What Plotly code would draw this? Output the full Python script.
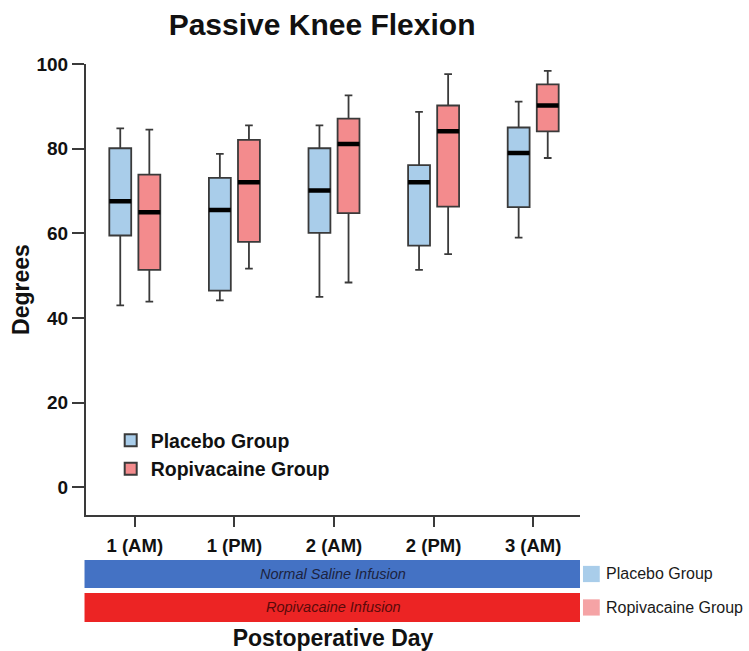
import plotly.graph_objects as go

# Postoperative assessment points
days = ["1 (AM)", "1 (PM)", "2 (AM)", "2 (PM)", "3 (AM)"]

# Passive knee flexion (degrees): five-number summaries per group
placebo_low = [43, 44.2, 45, 51.4, 59]
placebo_q1 = [59.5, 46.5, 60.1, 57.1, 66.2]
placebo_median = [67.6, 65.5, 70.1, 72.1, 79]
placebo_q3 = [80.1, 73.1, 80.1, 76.1, 85]
placebo_high = [84.8, 78.8, 85.5, 88.7, 91.1]

ropi_low = [43.9, 51.7, 48.4, 55.1, 77.8]
ropi_q1 = [51.4, 58, 64.8, 66.3, 84.1]
ropi_median = [65, 72.1, 81.1, 84.1, 90.2]
ropi_q3 = [73.9, 82.1, 87.1, 90.2, 95.2]
ropi_high = [84.5, 85.5, 92.6, 97.6, 98.4]

y_ticks = [0, 20, 40, 60, 80, 100]

FONT = "Arial, Liberation Sans, sans-serif"
BLUE_FILL = "#a9cdea"
RED_FILL = "#f38b8d"
OUTLINE = "#3a3a3a"

x_idx = list(range(len(days)))

fig = go.Figure()


def add_group(name, group, fill, low, q1, med, q3, high):
    fig.add_trace(go.Box(
        name=name, x=x_idx, offsetgroup=group, alignmentgroup="all",
        lowerfence=low, q1=q1, median=med, q3=q3, upperfence=high,
        fillcolor=fill, line=dict(color=OUTLINE, width=1.8),
        whiskerwidth=0.35, hoverinfo="skip",
    ))
    # thick black median bar drawn over the box
    fig.add_trace(go.Box(
        name=name + " median", x=x_idx, offsetgroup=group, alignmentgroup="all",
        lowerfence=med, q1=med, median=med, q3=med, upperfence=med,
        fillcolor="black", line=dict(color="black", width=4.5),
        whiskerwidth=0, showlegend=False, hoverinfo="skip",
    ))


add_group("Placebo Group", "placebo", BLUE_FILL,
          placebo_low, placebo_q1, placebo_median, placebo_q3, placebo_high)
add_group("Ropivacaine Group", "ropi", RED_FILL,
          ropi_low, ropi_q1, ropi_median, ropi_q3, ropi_high)

fig.update_layout(
    width=749, height=651,
    margin=dict(l=86, r=169, t=64, b=136),
    paper_bgcolor="white", plot_bgcolor="white",
    boxmode="group", boxgap=0.416, boxgroupgap=0.247,
    font=dict(family=FONT, color="#1a1a1a"),
    title=dict(text="Passive Knee Flexion", x=0.43, xanchor="center",
               y=0.962, yanchor="middle",
               font=dict(size=30, weight="bold", color="#111")),
    showlegend=True,
    legend=dict(x=0.05, xanchor="left", y=0.208, yanchor="top",
                bgcolor="rgba(0,0,0,0)", font=dict(size=19.5, weight="bold", color="#111"),
                itemsizing="constant", tracegroupgap=0),
    xaxis=dict(
        tickmode="array", tickvals=x_idx, ticktext=days,
        range=[-0.49, 4.47], showgrid=False, zeroline=False,
        showline=True, linecolor=OUTLINE, linewidth=2,
        ticks="outside", ticklen=10, tickwidth=2, tickcolor=OUTLINE,
        ticklabelstandoff=3,
        tickfont=dict(size=18.5, weight="bold", color="#111"),
        automargin=False,
        title=dict(text="Postoperative Day", standoff=75,
                   font=dict(size=23, weight="bold", color="#111")),
    ),
    yaxis=dict(
        tickmode="array", tickvals=y_ticks,
        range=[-6.5, 100], showgrid=False, zeroline=False,
        showline=True, linecolor=OUTLINE, linewidth=2,
        ticks="outside", ticklen=12, tickwidth=2, tickcolor=OUTLINE,
        tickfont=dict(size=19, weight="bold", color="#111"),
        automargin=False,
        title=dict(text="Degrees", standoff=0,
                   font=dict(size=23, weight="bold", color="#111")),
    ),
)

# Infusion bands beneath the day axis
bands = [
    ("Normal Saline Infusion", "#4472c4", "#1c2340", -0.0998, -0.1619),
    ("Ropivacaine Infusion", "#ec2424", "#5a0a0a", -0.173, -0.237),
]
for text, color, tcolor, y0, y1 in bands:
    fig.add_shape(type="rect", xref="paper", yref="paper",
                  x0=-0.003, x1=1.0, y0=y0, y1=y1,
                  fillcolor=color, line=dict(width=0), layer="above")
    fig.add_annotation(xref="paper", yref="paper", x=0.5, y=(y0 + y1) / 2,
                       xanchor="center", yanchor="middle",
                       text=f"<i>{text}</i>", showarrow=False,
                       font=dict(size=14.5, color=tcolor))

# Key for the bands
keys = [("Placebo Group", "#a9cdea", -0.1308), ("Ropivacaine Group", "#f5a3a5", -0.205)]
for text, color, yc in keys:
    fig.add_shape(type="rect", xref="paper", yref="paper",
                  x0=1.006, x1=1.040, y0=yc - 0.018, y1=yc + 0.018,
                  fillcolor=color, line=dict(width=0))
    fig.add_annotation(xref="paper", yref="paper", x=1.049, y=yc,
                       xanchor="left", yanchor="middle", text=text, showarrow=False,
                       font=dict(size=16, color="#1a1a1a"))

fig.write_html("out.html")
